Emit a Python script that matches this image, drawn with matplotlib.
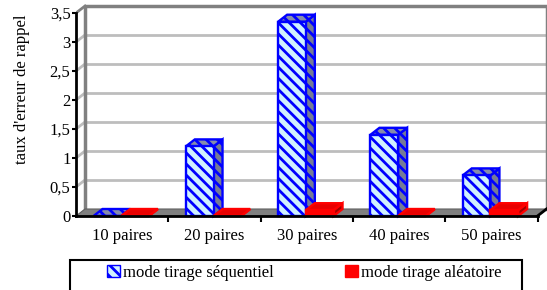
import matplotlib
matplotlib.use('Agg')
import matplotlib.pyplot as plt
from matplotlib.patches import Polygon, Patch, Rectangle

# values
categories = ['10 paires', '20 paires', '30 paires', '40 paires', '50 paires']
sequentiel = [0, 1.2, 3.35, 1.4, 0.7]
aleatoire = [0, 0, 0.1, 0, 0.1]
yticks = [0, 0.5, 1, 1.5, 2, 2.5, 3, 3.5]
ytick_labels = ['0', '0,5', '1', '1,5', '2', '2,5', '3', '3,5']
series_names = ['mode tirage séquentiel', 'mode tirage aléatoire']
ylabel = "taux d'erreur de rappel"

plt.rcParams['font.family'] = ['Liberation Serif', 'DejaVu Serif']
plt.rcParams['font.size'] = 12
plt.rcParams['hatch.linewidth'] = 2.0

W, H = 547, 290
PX, PY = 92.3, 58.0   # pixels per category / per unit
fig = plt.figure(figsize=(W / 100, H / 100), dpi=100)
ax = fig.add_axes([76 / W, 74 / H, (W - 76) / W, 216 / H])
n = len(categories)
ax.set_xlim(-0.5, -0.5 + (W - 76) / PX)
ax.set_ylim(0, 216 / PY)
dx, dy = 9 / PX, 7 / PY   # depth offset of the fake 3d
x0, x1 = -0.5, n - 0.5
ymax = yticks[-1]

# back wall gridlines + left wall diagonals
for v in yticks[1:-1]:
    ax.plot([x0 + dx, x1 + dx], [v + dy, v + dy], color='#bdbdbd', lw=2, zorder=1)
    ax.plot([x0, x0 + dx], [v, v + dy], color='#bdbdbd', lw=2, zorder=1)
ax.plot([x0 + dx, x0 + dx, x1 + dx, x1 + dx], [dy, ymax + dy, ymax + dy, dy],
        color='#808080', lw=2.5, zorder=1, clip_on=False)
ax.plot([x0, x0 + dx], [ymax, ymax + dy], color='#808080', lw=2, zorder=1)

# floor
ax.add_patch(Polygon([(x0, 0), (x1, 0), (x1 + dx, dy), (x0 + dx, dy)],
                     facecolor='#808080', edgecolor='#606060', lw=0.8, zorder=2))


def box(xl, xr, h, front, side, top, edge, hatch=None, z=3):
    side_pts = [(xr, 0), (xr + dx, dy), (xr + dx, h + dy), (xr, h)]
    top_pts = [(xl, h), (xr, h), (xr + dx, h + dy), (xl + dx, h + dy)]
    front_pts = [(xl, 0), (xr, 0), (xr, h), (xl, h)]
    for pts, fc in [(side_pts, side), (top_pts, top), (front_pts, front)]:
        ax.add_patch(Polygon(pts, facecolor=fc, edgecolor=edge, lw=1.7,
                             hatch=hatch, zorder=z, clip_on=False))


for i in range(n):
    box(i - 0.31, i - 0.01, sequentiel[i], '#d0f2ff', '#767b95', '#868cab',
        'blue', hatch='\\\\\\', z=3 + i * 0.1)
    box(i - 0.01, i + 0.29, aleatoire[i], '#ff0000', '#a00000', '#e80000',
        'red', z=3.05 + i * 0.1)

ax.plot([x1, x1 + dx], [0, dy], color='black', lw=2, zorder=5, clip_on=False)

for s in ['top', 'right']:
    ax.spines[s].set_visible(False)
ax.spines['left'].set_bounds(0, ymax)
ax.spines['left'].set_linewidth(2)
ax.spines['left'].set_zorder(6)
ax.spines['bottom'].set_bounds(x0, x1)
ax.spines['bottom'].set_linewidth(2)
ax.spines['bottom'].set_zorder(6)
ax.set_facecolor('none')

ax.set_yticks(yticks)
ax.set_yticklabels(ytick_labels)
ax.tick_params(axis='y', length=3, width=1.5, pad=1)
ax.set_xticks(range(n))
ax.set_xticklabels(categories)
ax.set_xticks([i + 0.5 for i in range(n)], minor=True)
ax.tick_params(axis='x', which='major', length=0, pad=9)
ax.tick_params(axis='x', which='minor', length=4, width=1.5)

fig.text(22 / W, 1 - 89 / H, ylabel, rotation=90, ha='center', va='center')

# legend box (runs off the bottom like the original)
fig.patches.append(Rectangle((70 / W, -0.05), 452 / W, (H - 260) / H + 0.05,
                             transform=fig.transFigure, fill=False,
                             edgecolor='black', lw=1.5))
handles = [Patch(facecolor='#d0f2ff', edgecolor='blue', hatch='\\\\\\'),
           Patch(facecolor='red', edgecolor='red')]
fig.legend(handles, series_names, ncol=2, frameon=False, loc='center left',
           bbox_to_anchor=(107 / W, 1 - 273 / H), borderpad=0, borderaxespad=0,
           handlelength=0.75, handleheight=0.75, handletextpad=0.2,
           columnspacing=4.3)

fig.savefig('out.png', dpi=100)
